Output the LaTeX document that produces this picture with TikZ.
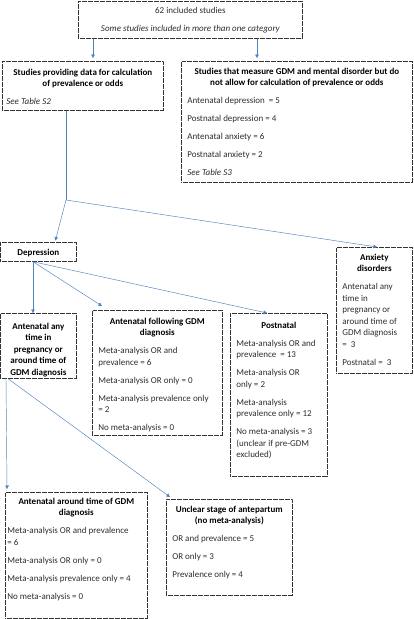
\documentclass[tikz,border=0pt]{standalone}
\usepackage{fontspec}
\setmainfont{Carlito}
\usetikzlibrary{arrows.meta}
\definecolor{lnc}{RGB}{79,129,189}
\definecolor{bdc}{RGB}{50,50,50}
\definecolor{txc}{RGB}{45,45,45}
\newcommand\fl[1]{\leavevmode\rule{0pt}{#1pt}}
\newcommand\bxt[3]{\parbox[t][#2][t]{#1}{\fontsize{9}{11.5}\selectfont\setlength\parskip{6.5pt}#3}}
\begin{document}
\begin{tikzpicture}[x=1pt,y=-1pt,
  bx/.style={draw=bdc, line width=0.7pt, dash pattern=on 0.6pt off 0.6pt, inner ysep=0pt, inner xsep=5pt, anchor=north west, text=txc},
  ln/.style={draw=lnc, line width=0.45pt},
  arr/.style={ln, -{Triangle[length=3.5pt,width=3.5pt]}}]
\useasboundingbox (0,0) rectangle (413,619);
% boxes
\node[bx] (top) at (78,1) {\bxt{214pt}{37pt}{{\centering\fl{12}62 included studies\par\itshape Some studies included in more than one category\par}}};
\node[bx,inner xsep=4pt] (data) at (2,61) {\bxt{153pt}{49pt}{{\centering\bfseries\fl{14}\color{black}Studies providing data for calculation\\of prevalence or odds\par}\raggedright\itshape See Table S2\par}};
\node[bx,inner xsep=3pt] (meas) at (181,61) {\bxt{225pt}{121pt}{{\centering\bfseries\fl{13}\color{black}Studies that measure GDM and mental disorder but do\\not allow for calculation of prevalence or odds\par}\raggedright\hspace*{3pt}Antenatal depression\ \ = 5\par\hspace*{3pt}Postnatal depression = 4\par\hspace*{3pt}Antenatal anxiety = 6\par\hspace*{3pt}Postnatal anxiety = 2\par{\itshape\hspace*{3pt}See Table S3\par}}};
\node[bx] (dep) at (0,242) {\bxt{66pt}{19pt}{{\centering\bfseries\fl{13}\color{black}Depression\par}}};
\node[bx,inner xsep=6pt] (anx) at (336,247) {\bxt{64pt}{126pt}{{\centering\bfseries\fl{13}\color{black}Anxiety\\disorders\par}\raggedright Antenatal any\\time in\\pregnancy or\\around time of\\GDM diagnosis\\=\ \ 3\par Postnatal = \ 3\par}};
\node[bx,inner xsep=2pt] (any) at (0,313) {\bxt{72pt}{65pt}{{\centering\bfseries\fl{16}\color{black}Antenatal any\\time in\\pregnancy or\\around time of\\GDM diagnosis\par}}};
\node[bx,inner xsep=6pt] (follow) at (92,310) {\bxt{118pt}{125pt}{{\centering\bfseries\fl{14}\color{black}Antenatal following GDM\\diagnosis\par}\raggedright Meta-analysis OR and\\prevalence = 6\par Meta-analysis OR only = 0\par Meta-analysis prevalence only\\= 2\par No meta-analysis = 0\par}};
\node[bx,inner xsep=6pt] (post) at (230,313) {\bxt{85pt}{163pt}{{\centering\bfseries\fl{15}\color{black}Postnatal\par}\raggedright Meta-analysis OR and\\prevalence \ = 13\par Meta-analysis OR\\only = 2\par Meta-analysis\\prevalence only = 12\par No meta-analysis = 3\\(unclear if pre-GDM\\excluded)\par}};
\node[bx,inner xsep=2pt] (around) at (5,492) {\bxt{138pt}{126pt}{{\centering\bfseries\fl{12}\color{black}Antenatal around time of GDM\\diagnosis\par}\raggedright Meta-analysis OR and prevalence\\= 6\par Meta-analysis OR only = 0\par Meta-analysis prevalence only = 4\par No meta-analysis = 0\par}};
\node[bx,inner xsep=6pt] (unclear) at (166,499) {\bxt{114pt}{96pt}{{\centering\bfseries\fl{13}\color{black}Unclear stage of antepartum\\(no meta-analysis)\par}\raggedright OR and prevalence = 5\par OR only = 3\par Prevalence only = 4\par}};
% connectors
\coordinate (J) at (66,200);
\draw[arr, shorten >=3pt] ([xshift=15pt]top.south west) -- ([xshift=91pt]data.north west);
\draw[arr, shorten >=3pt] ([xshift=179pt]top.south west) -- ([xshift=76pt]meas.north west);
\draw[ln] (data.south -| J) -- (J);
\draw[arr, shorten >=1.5pt] (J) -- ([xshift=55pt]dep.north west);
\draw[arr] (J) -- ([xshift=41pt]anx.north west);
\draw[arr] ([xshift=33pt]dep.south west) -- ([xshift=33pt]any.north west);
\draw[arr] ([xshift=33pt]dep.south west) -- ([xshift=10pt,yshift=4pt]follow.north west);
\draw[arr] ([xshift=33pt]dep.south west) -- ([xshift=37pt]post.north west);
\draw[arr] ([xshift=6pt]any.south west) -- ([xshift=2pt,yshift=3pt]around.north west);
\draw[arr] ([xshift=8pt]any.south west) -- ([xshift=4pt,yshift=2pt]unclear.north west);
\end{tikzpicture}
\end{document}
